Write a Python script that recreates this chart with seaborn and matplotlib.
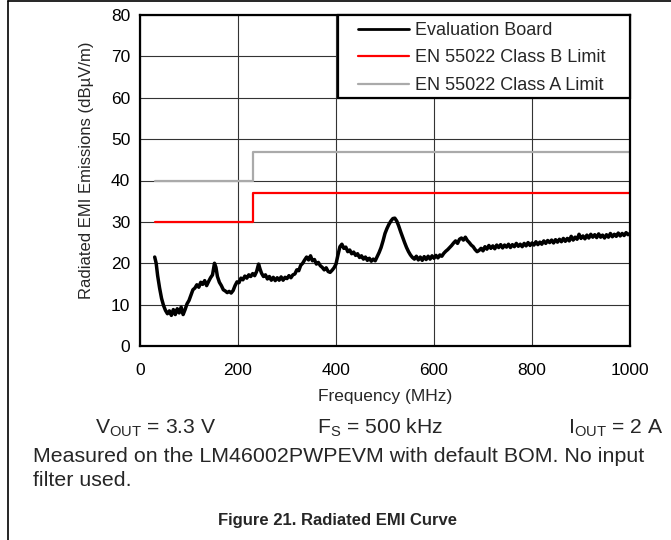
import matplotlib
matplotlib.use("Agg")
import matplotlib.pyplot as plt
from matplotlib.lines import Line2D
from matplotlib.patches import Rectangle
import seaborn as sns
import pandas as pd

# measured sweep (MHz, dBuV/m)
freq = [30, 33, 36, 40, 44, 48, 52, 56, 60, 64, 68, 72, 76, 80, 84, 88, 92, 96, 100, 104,
        108, 112, 116, 120, 124, 128, 132, 136, 140, 144, 148, 152, 155, 158, 162, 166, 170, 174, 178, 182,
        186, 190, 194, 198, 202, 206, 210, 214, 218, 222, 226, 230, 234, 238, 242, 245, 248, 252, 256, 260,
        264, 268, 272, 276, 280, 284, 288, 292, 296, 300, 304, 308, 312, 316, 320, 324, 328, 332, 336, 340,
        344, 348, 352, 356, 360, 364, 368, 372, 376, 380, 384, 388, 392, 396, 400, 404, 408, 412, 416, 420,
        424, 428, 432, 436, 440, 444, 448, 452, 456, 460, 464, 468, 472, 476, 480, 484, 488, 492, 496, 500,
        504, 508, 512, 516, 520, 524, 528, 532, 536, 540, 544, 548, 552, 556, 560, 564, 568, 572, 576, 580,
        584, 588, 592, 596, 600, 604, 608, 612, 616, 620, 624, 628, 632, 636, 640, 644, 648, 652, 656, 660,
        664, 668, 672, 676, 680, 684, 688, 692, 696, 700, 704, 708, 712, 716, 720, 724, 728, 732, 736, 740,
        744, 748, 752, 756, 760, 764, 768, 772, 776, 780, 784, 788, 792, 796, 800, 804, 808, 812, 816, 820,
        824, 828, 832, 836, 840, 844, 848, 852, 856, 860, 864, 868, 872, 876, 880, 884, 888, 892, 896, 900,
        904, 908, 912, 916, 920, 924, 928, 932, 936, 940, 944, 948, 952, 956, 960, 964, 968, 972, 976, 980,
        984, 988, 992, 996, 1000]
emission = [21.5, 20.0, 17.0, 14.0, 11.5, 9.8, 8.6, 7.8, 8.5, 7.4, 8.8, 7.6, 9.0, 8.0, 9.4, 7.6, 8.8, 10.2, 11.0, 12.3,
            13.6, 14.0, 14.8, 14.2, 15.4, 14.9, 15.8, 14.6, 15.6, 16.5, 17.2, 20.0, 19.0, 16.8, 15.4, 14.6, 13.6, 13.3, 12.9, 13.2,
            12.8, 13.4, 14.6, 15.5, 15.3, 16.4, 16.0, 16.9, 16.4, 17.2, 16.8, 17.5, 17.0, 18.0, 19.8, 18.6, 17.6, 16.8, 17.2, 16.2,
            16.8, 15.9, 16.6, 15.8, 16.5, 15.9, 16.7, 15.9, 16.6, 16.3, 17.0, 16.5, 17.2, 17.4, 18.4, 18.2, 19.5, 20.0, 20.8, 21.5,
            20.8, 21.8, 20.6, 20.9, 19.8, 20.2, 19.4, 19.0, 18.4, 18.9, 18.0, 17.8, 18.3, 18.9, 19.8, 22.0, 24.0, 24.6, 23.6, 23.9,
            22.8, 23.2, 22.3, 22.7, 21.9, 22.3, 21.4, 21.8, 21.0, 21.5, 20.7, 21.2, 20.5, 21.0, 20.6, 21.6, 22.6, 23.8, 25.4, 27.2,
            28.4, 29.4, 30.2, 30.8, 30.9, 30.2, 29.0, 27.6, 26.3, 25.0, 23.8, 22.8, 22.0, 21.4, 21.0, 21.7, 20.8, 21.5, 20.7, 21.6,
            20.9, 21.7, 21.0, 21.8, 21.2, 21.9, 21.3, 22.0, 21.7, 22.4, 22.9, 23.3, 23.8, 24.3, 24.9, 25.4, 24.8, 25.8, 26.1, 25.6,
            26.3, 25.5, 25.0, 24.4, 24.0, 23.3, 22.8, 23.1, 23.6, 23.0, 24.0, 23.4, 24.3, 23.6, 24.2, 23.5, 24.4, 23.8, 24.5, 23.7,
            24.4, 23.9, 24.6, 23.8, 24.5, 24.0, 24.8, 24.1, 24.6, 24.0, 24.8, 24.2, 25.0, 24.3, 24.9, 24.4, 25.2, 24.5, 25.1, 24.6,
            25.4, 24.8, 25.5, 25.0, 25.6, 24.9, 25.7, 25.1, 25.8, 25.2, 26.0, 25.3, 26.0, 25.4, 26.5, 25.6, 26.3, 25.8, 27.0, 26.0,
            26.6, 25.9, 26.8, 26.1, 27.0, 26.3, 26.9, 26.2, 27.1, 26.3, 26.8, 26.1, 26.9, 26.3, 27.2, 26.4, 27.0, 26.5, 27.3, 26.6,
            27.2, 26.7, 27.4, 26.9, 27.2]

# limit lines (step at 230 MHz)
limit_freq = [30, 230, 230, 1000]
class_b = [30, 30, 37, 37]
class_a = [40, 40, 47, 47]

sns.set_style("white")
plt.rcParams['font.family'] = ['Liberation Sans', 'DejaVu Sans']
plt.rcParams['mathtext.default'] = 'regular'

fig = plt.figure(figsize=(6.71, 5.40), dpi=100)
ax = fig.add_axes([140/671, 1-346/540, 490/671, 331/540])

df = pd.DataFrame({'f': freq, 'e': emission})
lim = pd.DataFrame({'f': limit_freq, 'b': class_b, 'a': class_a})

sns.lineplot(data=lim, x='f', y='a', color='#aaaaaa', lw=1.6, estimator=None, sort=False, ax=ax)
sns.lineplot(data=lim, x='f', y='b', color='#ff0000', lw=1.6, estimator=None, sort=False, ax=ax)
sns.lineplot(data=df, x='f', y='e', color='black', lw=2.5, estimator=None, sort=False, ax=ax)

ax.set_xlim(0, 1000)
ax.set_ylim(0, 80)
ax.set_xticks(range(0, 1001, 200))
ax.set_yticks(range(0, 81, 10))
ax.grid(True, color='#333333', lw=0.8)
ax.set_axisbelow(True)
for s in ax.spines.values():
    s.set_color('black')
    s.set_linewidth(1.6)
ax.tick_params(axis='both', length=0, labelsize=12.5, colors='black')
ax.tick_params(axis='x', pad=12)
ax.tick_params(axis='y', pad=7)
ax.set_xlabel('Frequency (MHz)', fontsize=12.5, labelpad=8)
ax.set_ylabel('Radiated EMI Emissions (dBµV/m)', fontsize=12)
ax.yaxis.set_label_coords(-0.094, 0.532)

# legend box drawn separately (wide side padding)
ax.add_patch(Rectangle((198/490, 248/331), 1 - 198/490, 83/331, transform=ax.transAxes,
                       facecolor='white', edgecolor='black', lw=1.6, zorder=5, clip_on=False))
handles = [Line2D([], [], color='black', lw=2.0),
           Line2D([], [], color='#ff0000', lw=1.6),
           Line2D([], [], color='#aaaaaa', lw=1.6)]
labels = ['Evaluation Board', 'EN 55022 Class B Limit', 'EN 55022 Class A Limit']
leg = ax.legend(handles, labels, loc='upper left', bbox_to_anchor=(218/490, 1 - 7/331),
                fontsize=13, frameon=False, borderaxespad=0, borderpad=0,
                handlelength=2.85, handletextpad=0.33, labelspacing=0.58)
leg.set_zorder(6)

fig.text(156/671, 1-428/540, r'V$_{OUT}$ = 3.3 V', fontsize=15.2, ha='center', va='center')
fig.text(380/671, 1-428/540, r'F$_{S}$ = 500 kHz', fontsize=15.2, ha='center', va='center')
fig.text(616/671, 1-428/540, r'I$_{OUT}$ = 2 A', fontsize=15.2, ha='center', va='center')
fig.text(33/671, 1-456/540, 'Measured on the LM46002PWPEVM with default BOM. No input', fontsize=15.4, ha='left', va='center')
fig.text(33/671, 1-480/540, 'filter used.', fontsize=15.4, ha='left', va='center')
fig.text(337/671, 1-521/540, 'Figure 21. Radiated EMI Curve', fontsize=12, fontweight='bold', ha='center', va='center')

# page frame: top and left rule
fig.add_artist(Line2D([8/671, 1], [1-1/540, 1-1/540], color='black', lw=1.2, transform=fig.transFigure))
fig.add_artist(Line2D([8/671, 8/671], [0, 1-1/540], color='black', lw=1.2, transform=fig.transFigure))

fig.savefig('out.png', dpi=100)
